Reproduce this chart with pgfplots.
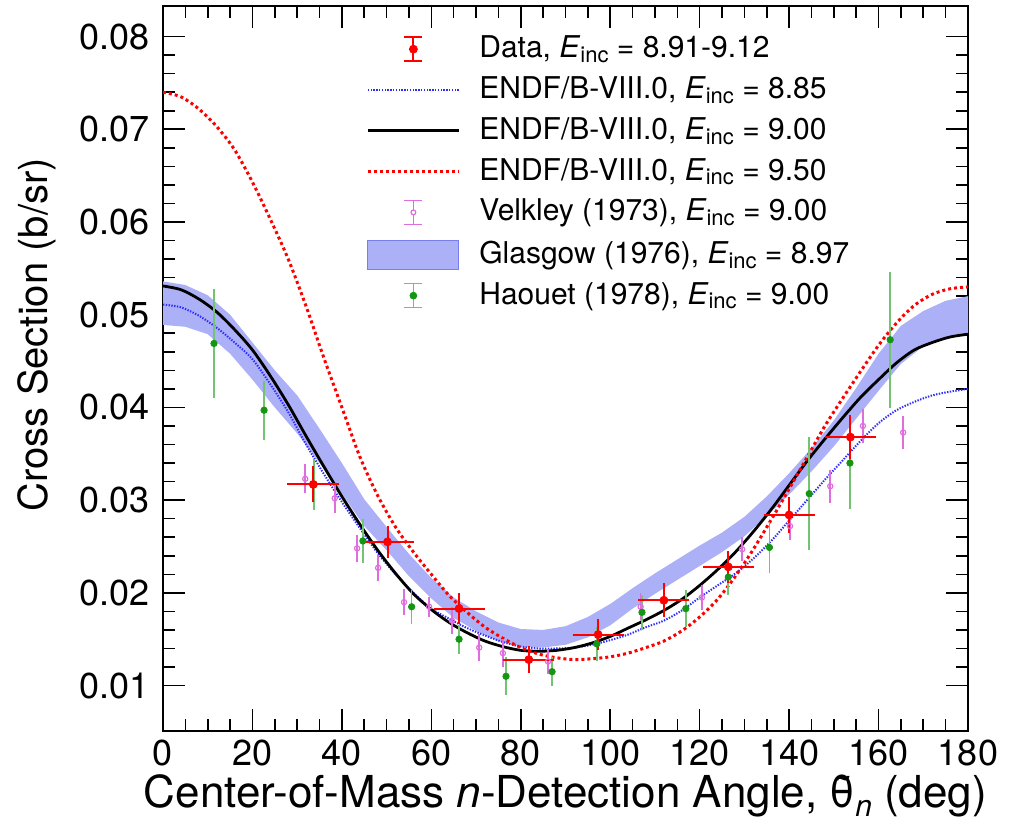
\documentclass[border=0pt]{standalone}
\usepackage{fontspec}
\setmainfont{TeX Gyre Heros}
\setsansfont{TeX Gyre Heros}
\usepackage{pgfplots}
\usepackage{pgfplotstable}
\pgfplotsset{compat=1.18}
\usepgfplotslibrary{fillbetween}

\definecolor{bandcol}{RGB}{172,176,246}
\definecolor{bandedge}{RGB}{120,125,240}
\definecolor{endfblue}{RGB}{45,45,255}
\definecolor{velk}{RGB}{222,110,222}
\definecolor{haogreen}{RGB}{20,150,20}
\definecolor{haobar}{RGB}{115,195,115}

\newcommand\Einc{\textit{E}\raisebox{-0.3ex}{\fontsize{11}{11}\selectfont inc}}

% measured points
\pgfplotstableread{
x y ex ey
33.6 0.0317 5.1 0.0016
50.2 0.0255 5.1 0.0014
66.2 0.0183 5.0 0.0013
81.8 0.0128 5.0 0.0011
97.3 0.0155 5.0 0.0013
112.0 0.0192 5.0 0.0015
126.4 0.0228 5.0 0.0014
140.0 0.0284 5.0 0.0016
153.7 0.0368 5.0 0.0020
}\datatab

\pgfplotstableread{
x y ey
31.8 0.0323 0.0013
38.4 0.0302 0.0013
43.4 0.0248 0.0012
48.1 0.0227 0.0011
53.9 0.0190 0.0011
59.5 0.0185 0.0008
64.6 0.0170 0.0012
70.7 0.0141 0.0012
76.0 0.0135 0.0012
86.1 0.0126 0.0011
106.8 0.0185 0.0012
120.5 0.0195 0.0011
129.5 0.0247 0.0010
140.2 0.0272 0.0012
149.2 0.0315 0.0015
156.5 0.0380 0.0016
165.5 0.0373 0.0015
}\velkley

\pgfplotstableread{
x y ey
11.4 0.0469 0.0056
22.6 0.0397 0.0029
33.8 0.0317 0.0025
44.7 0.0256 0.0021
55.6 0.0185 0.0016
66.2 0.0150 0.0013
76.7 0.0110 0.0018
87.0 0.0115 0.0013
97.0 0.0145 0.0016
107.1 0.0179 0.0016
116.9 0.0183 0.0017
126.4 0.0217 0.0017
135.6 0.0249 0.0025
144.5 0.0307 0.0058
153.6 0.0340 0.0047
162.6 0.0473 0.0071
}\haouet

% ENDF/B-VIII.0 curves: x, 8.85, 9.00, 9.50
\pgfplotstableread{
x a b c
0 0.0511 0.0531 0.0740
4 0.0508 0.0527 0.0735
8 0.0499 0.0517 0.0722
12 0.0486 0.0503 0.0703
16 0.0470 0.0484 0.0678
20 0.0452 0.0462 0.0643
24 0.0425 0.0434 0.0603
28 0.0395 0.0403 0.0560
32 0.0360 0.0369 0.0509
36 0.0328 0.0336 0.0453
40 0.0298 0.0304 0.0400
44 0.0270 0.0274 0.0347
48 0.0243 0.0246 0.0305
52 0.0220 0.0221 0.0271
56 0.0200 0.0199 0.0244
60 0.0183 0.0182 0.0220
64 0.0172 0.0168 0.0197
68 0.0162 0.0157 0.0179
72 0.0154 0.0148 0.0163
76 0.0147 0.0142 0.0151
80 0.0142 0.0138 0.0141
84 0.0140 0.0137 0.0134
88 0.0140 0.0138 0.0130
92 0.0141 0.0141 0.0128
96 0.0144 0.0146 0.0129
100 0.0149 0.0153 0.0131
104 0.0155 0.0162 0.0135
108 0.0163 0.0171 0.0141
112 0.0170 0.0181 0.0148
116 0.0181 0.0193 0.0159
120 0.0195 0.0208 0.0174
124 0.0208 0.0225 0.0193
128 0.0221 0.0244 0.0218
132 0.0237 0.0266 0.0247
136 0.0256 0.0290 0.0279
140 0.0278 0.0316 0.0312
144 0.0300 0.0342 0.0346
148 0.0322 0.0366 0.0380
152 0.0343 0.0389 0.0410
156 0.0364 0.0411 0.0439
160 0.0383 0.0430 0.0467
164 0.0397 0.0448 0.0491
168 0.0406 0.0462 0.0510
172 0.0413 0.0470 0.0522
176 0.0417 0.0476 0.0528
180 0.0420 0.0479 0.0530
}\endf

% Glasgow band
\pgfplotstableread{
x hi lo
0 0.0536 0.0489
5 0.0532 0.0487
10 0.0521 0.0479
15 0.0500 0.0458
20 0.0470 0.0430
25 0.0440 0.0400
30 0.0413 0.0372
35 0.0377 0.0340
40 0.0340 0.0307
45 0.0301 0.0272
50 0.0271 0.0246
55 0.0242 0.0218
60 0.0216 0.0194
65 0.0195 0.0173
70 0.0180 0.0159
75 0.0168 0.0148
80 0.0161 0.0142
85 0.0160 0.0141
90 0.0164 0.0144
95 0.0174 0.0152
100 0.0188 0.0165
105 0.0205 0.0183
110 0.0221 0.0199
115 0.0236 0.0214
120 0.0251 0.0229
125 0.0265 0.0244
130 0.0282 0.0261
135 0.0304 0.0283
140 0.0329 0.0306
145 0.0356 0.0331
150 0.0386 0.0358
155 0.0421 0.0388
160 0.0458 0.0418
165 0.0488 0.0447
170 0.0504 0.0466
175 0.0515 0.0476
180 0.0520 0.0480
}\glasgow

\begin{document}
\begin{tikzpicture}
\begin{axis}[name=ax, scale only axis, width=402.5pt, height=362.5pt,
  xmin=0, xmax=180, ymin=0.0051, ymax=0.0833,
  xtick={0,20,...,180}, xticklabels={0,20,40,60,80,100,120,140,160,180},
  ytick={0.01,0.02,0.03,0.04,0.05,0.06,0.07,0.08},
  yticklabels={0.01,0.02,0.03,0.04,0.05,0.06,0.07,0.08},
  scaled y ticks=false,
  minor x tick num=3, minor y tick num=4,
  major tick length=11pt, minor tick length=6pt,
  every tick/.style={black, line width=0.8pt},
  axis line style={line width=1pt},
  tick label style={font=\fontsize{18}{18}\selectfont, inner sep=0pt},
  xticklabel style={yshift=-4.5pt},
  yticklabel style={xshift=-6.5pt},
  every axis x label/.style={at={(axis description cs:0.5,-0.0897)}, anchor=center,
    font=\fontsize{22}{22}\selectfont},
  every axis y label/.style={at={(axis description cs:-0.157,0.80)}, rotate=90, anchor=east,
    font=\fontsize{20}{20}\selectfont},
  xlabel={Center-of-Mass \textit{n}-Detection Angle, \~{θ}\raisebox{-0.4ex}{\fontsize{15}{15}\selectfont\textit{n}} (deg)},
  ylabel={Cross Section (b/sr)},
  legend cell align=left,
  legend style={draw=none, fill=none, at={(axis description cs:0.2447,0.965)}, anchor=north west,
    font=\fontsize{15}{18}\selectfont, row sep=5pt, column sep=9.5pt,
    nodes={inner sep=0pt, text height=11pt, text depth=4.4pt}},
]
% legend entries
\addlegendimage{legend image code/.code={
  \draw[red, line width=1pt] (22.75pt,-5pt)--(22.75pt,7pt) (18.25pt,-5pt)--(27.25pt,-5pt) (18.25pt,7pt)--(27.25pt,7pt);
  \fill[red] (22.75pt,1pt) circle (2pt);}}
\addlegendentry{Data, \Einc{} = 8.91-9.12}
\addlegendimage{legend image code/.code={
  \draw[endfblue, line width=1pt, dash pattern=on 0.7pt off 0.7pt] (0pt,1pt)--(45.5pt,1pt);}}
\addlegendentry{ENDF/B-VIII.0, \Einc{} = 8.85}
\addlegendimage{legend image code/.code={
  \draw[black, line width=1.4pt] (0pt,1pt)--(45.5pt,1pt);}}
\addlegendentry{ENDF/B-VIII.0, \Einc{} = 9.00}
\addlegendimage{legend image code/.code={
  \draw[red, line width=1.5pt, dash pattern=on 1.5pt off 1.5pt] (0pt,1pt)--(45.5pt,1pt);}}
\addlegendentry{ENDF/B-VIII.0, \Einc{} = 9.50}
\addlegendimage{legend image code/.code={
  \draw[velk, line width=0.8pt] (22.75pt,-5pt)--(22.75pt,7pt) (18.25pt,-5pt)--(27.25pt,-5pt) (18.25pt,7pt)--(27.25pt,7pt);
  \filldraw[velk, fill=white, line width=0.6pt] (22.75pt,1pt) circle (1.2pt);}}
\addlegendentry{Velkley (1973), \Einc{} = 9.00}
\addlegendimage{legend image code/.code={
  \draw[fill=bandcol, draw=bandedge, line width=0.6pt] (0pt,-6.25pt) rectangle (45.5pt,8.25pt);}}
\addlegendentry{Glasgow (1976), \Einc{} = 8.97}
\addlegendimage{legend image code/.code={
  \draw[haobar, line width=0.8pt] (22.75pt,-5pt)--(22.75pt,7pt) (18.25pt,-5pt)--(27.25pt,-5pt) (18.25pt,7pt)--(27.25pt,7pt);
  \fill[haogreen] (22.75pt,1pt) circle (1.7pt);}}
\addlegendentry{Haouet (1978), \Einc{} = 9.00}

% Glasgow band
\addplot[name path=gu, draw=none, forget plot] table[x=x, y=hi] {\glasgow};
\addplot[name path=gl, draw=none, forget plot] table[x=x, y=lo] {\glasgow};
\addplot[fill=bandcol, draw=none, forget plot] fill between[of=gu and gl];

% ENDF curves
\addplot[endfblue, line width=1pt, dash pattern=on 0.7pt off 0.7pt, smooth, forget plot] table[x=x, y=a] {\endf};
\addplot[black, line width=1.4pt, smooth, forget plot] table[x=x, y=b] {\endf};
\addplot[red, line width=1.5pt, dash pattern=on 1.5pt off 1.5pt, smooth, forget plot] table[x=x, y=c] {\endf};

% Velkley
\addplot[velk, only marks, mark=o, mark size=1.3pt, mark options={line width=0.6pt, fill=white}, forget plot,
  error bars/.cd, y dir=both, y explicit,
  error bar style={velk, line width=0.8pt}, error mark options={velk, mark size=1.3pt, line width=0.8pt}]
  table[x=x, y=y, y error=ey] {\velkley};
% Haouet
\addplot[haogreen, only marks, mark=*, mark size=1.6pt, forget plot,
  error bars/.cd, y dir=both, y explicit,
  error bar style={haobar, line width=0.8pt}, error mark options={haobar, mark size=1.2pt, line width=0.8pt}]
  table[x=x, y=y, y error=ey] {\haouet};
% Data
\addplot[red, only marks, mark=*, mark size=2pt, forget plot,
  error bars/.cd, x dir=both, x explicit, y dir=both, y explicit,
  error bar style={red, line width=1pt}, error mark options={red, mark size=1.6pt, line width=1pt}]
  table[x=x, y=y, x error=ex, y error=ey] {\datatab};
\end{axis}
\pgfresetboundingbox
\path[use as bounding box] ([xshift=-81.5pt, yshift=-47.5pt]ax.south west) rectangle ([xshift=24.5pt, yshift=3pt]ax.north east);
\end{tikzpicture}
\end{document}
